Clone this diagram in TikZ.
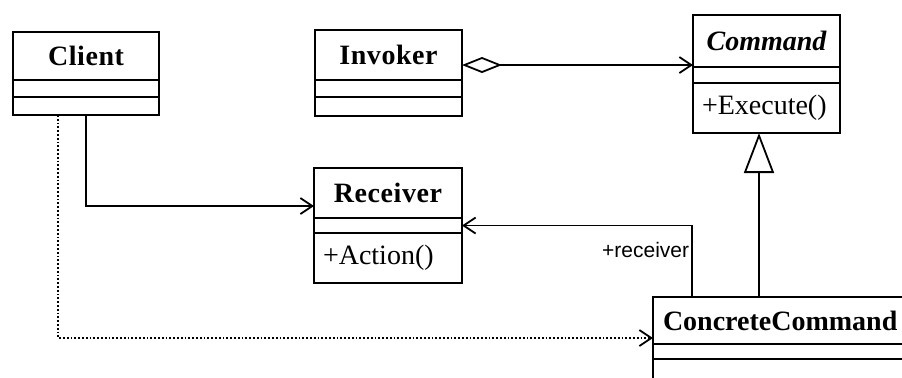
\documentclass[tikz,border=0pt]{standalone}
\usepackage{fontspec}
\setmainfont{Liberation Serif}
\newfontfamily\rolefont{Liberation Sans}
\usetikzlibrary{arrows.meta}

\begin{document}
\begin{tikzpicture}[
  x=0.5pt, y=-0.5pt,
  part/.style={draw,line width=0.9pt,anchor=north west,inner sep=0pt,outer sep=0pt},
  classname/.style={part,font=\fontsize{14}{16}\selectfont\bfseries\addfontfeature{LetterSpace=2}},
  ops/.style={part,font=\fontsize{14}{16}\selectfont,align=left,inner xsep=4.5pt},
  assoc/.style={-{Straight Barb[length=6pt,width=8pt]},line width=0.9pt},
  aggr/.style={{Diamond[open,length=20pt,width=8pt]}-{Straight Barb[length=6pt,width=8pt]},line width=0.9pt},
  inherit/.style={-{Triangle[open,length=20pt,width=15pt,fill=white]},line width=0.9pt},
  dep/.style={-{Straight Barb[length=6pt,width=8pt]},line width=0.9pt,densely dotted}
]
  \useasboundingbox (0,0) rectangle (902,377);
  \clip (0,0) rectangle (902,377);

  % Client
  \node[classname,minimum width=73pt,minimum height=24pt] (client) at (13,32) {Client};
  \node[part,minimum width=73pt,minimum height=8.5pt] (client-a) at (client.south west) {};
  \node[part,minimum width=73pt,minimum height=9pt] (client-o) at (client-a.south west) {};

  % Invoker
  \node[classname,minimum width=73.5pt,minimum height=25pt] (invoker) at (315,30) {Invoker};
  \node[part,minimum width=73.5pt,minimum height=8.5pt] (invoker-a) at (invoker.south west) {};
  \node[part,minimum width=73.5pt,minimum height=9.5pt] (invoker-o) at (invoker-a.south west) {};

  % Command
  \node[classname,font=\fontsize{14}{16}\selectfont\bfseries\itshape,
        minimum width=73.5pt,minimum height=26pt] (command) at (693,15) {Command};
  \node[part,minimum width=73.5pt,minimum height=8pt] (command-a) at (command.south west) {};
  \node[ops,text width=64.5pt,minimum height=25pt] (command-o) at (command-a.south west) {+Execute()};

  % Receiver
  \node[classname,minimum width=74pt,minimum height=25pt] (receiver) at (314,168) {Receiver};
  \node[part,minimum width=74pt,minimum height=7.5pt] (receiver-a) at (receiver.south west) {};
  \node[ops,text width=65pt,minimum height=25pt] (receiver-o) at (receiver-a.south west) {+Action()};

  % ConcreteCommand
  \node[part,font=\fontsize{14}{16}\selectfont\bfseries,align=left,inner xsep=5pt,
        text width=126pt,minimum height=23.5pt] (cc) at (653,297) {ConcreteCommand};
  \node[part,minimum width=136pt,minimum height=7.5pt] (cc-a) at (cc.south west) {};
  \node[part,minimum width=136pt,minimum height=20pt] (cc-o) at (cc-a.south west) {};

  % connectors
  \draw[assoc] (client-o.south) |- ([yshift=-6.5pt]receiver.west);
  \draw[dep] ([xshift=-14pt]client-o.south) |- ([yshift=-8.75pt]cc.west);
  \draw[aggr] ([yshift=-5pt]invoker.east) -- ([yshift=-5pt]invoker.east -| command.west);
  \draw[assoc] ([xshift=19.5pt]cc.north west) |- (receiver-a.east)
    node[pos=.33,left,inner sep=1pt,font=\rolefont\fontsize{10.5}{12}\selectfont] {+receiver};
  \draw[inherit] ([xshift=53pt]cc.north west) -- ([xshift=53pt]cc.north west |- command-o.south);
\end{tikzpicture}
\end{document}
